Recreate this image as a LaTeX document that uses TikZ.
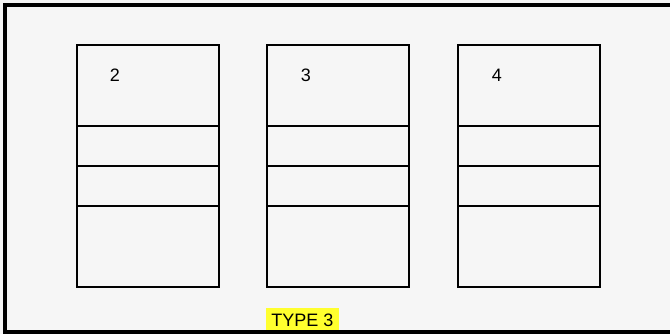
\documentclass[tikz,border=0pt]{standalone}
\usepackage{fontspec}
\setmainfont{Liberation Sans}
\usetikzlibrary{positioning}

\definecolor{paper}{HTML}{F6F6F6}
\definecolor{marker}{HTML}{FFFF2E}

\begin{document}
\begin{tikzpicture}[
  x=1pt, y=-1pt,
  cell/.style={draw, line width=2pt, minimum width=142pt, inner sep=0pt, outer sep=0pt},
  tall/.style={cell, minimum height=81pt},
  slim/.style={cell, minimum height=40pt},
  num/.style={font=\fontsize{18}{21}\selectfont, inner sep=0pt},
  tag/.style={fill=marker, font=\fontsize{18}{21}\selectfont, minimum width=73pt, minimum height=24pt, inner sep=0pt}
]

\useasboundingbox (0,0) rectangle (670,334);
\fill[paper] (0,0) rectangle (670,334);

% column 2
\node[tall, anchor=north west] (top2) at (77,45) {};
\node[slim, below=0pt of top2] (midA2) {};
\node[slim, below=0pt of midA2] (midB2) {};
\node[tall, below=0pt of midB2] (low2) {};
\node[num] (n2) at (115,75) {2};

% column 3
\node[tall, right=48pt of top2] (top3) {};
\node[slim, below=0pt of top3] (midA3) {};
\node[slim, below=0pt of midA3] (midB3) {};
\node[tall, below=0pt of midB3] (low3) {};
\node[num] (n3) at (306,75) {3};

% column 4
\node[tall, right=49pt of top3] (top4) {};
\node[slim, below=0pt of top4] (midA4) {};
\node[slim, below=0pt of midA4] (midB4) {};
\node[tall, below=0pt of midB4] (low4) {};
\node[num] (n4) at (497,75) {4};

% type label, then the frame over it
\node[tag, anchor=north] (type) at (302.5,308) {TYPE 3};
\draw[line width=4pt] (675,5) -- (5,5) -- (5,332) -- (675,332);

\end{tikzpicture}
\end{document}
